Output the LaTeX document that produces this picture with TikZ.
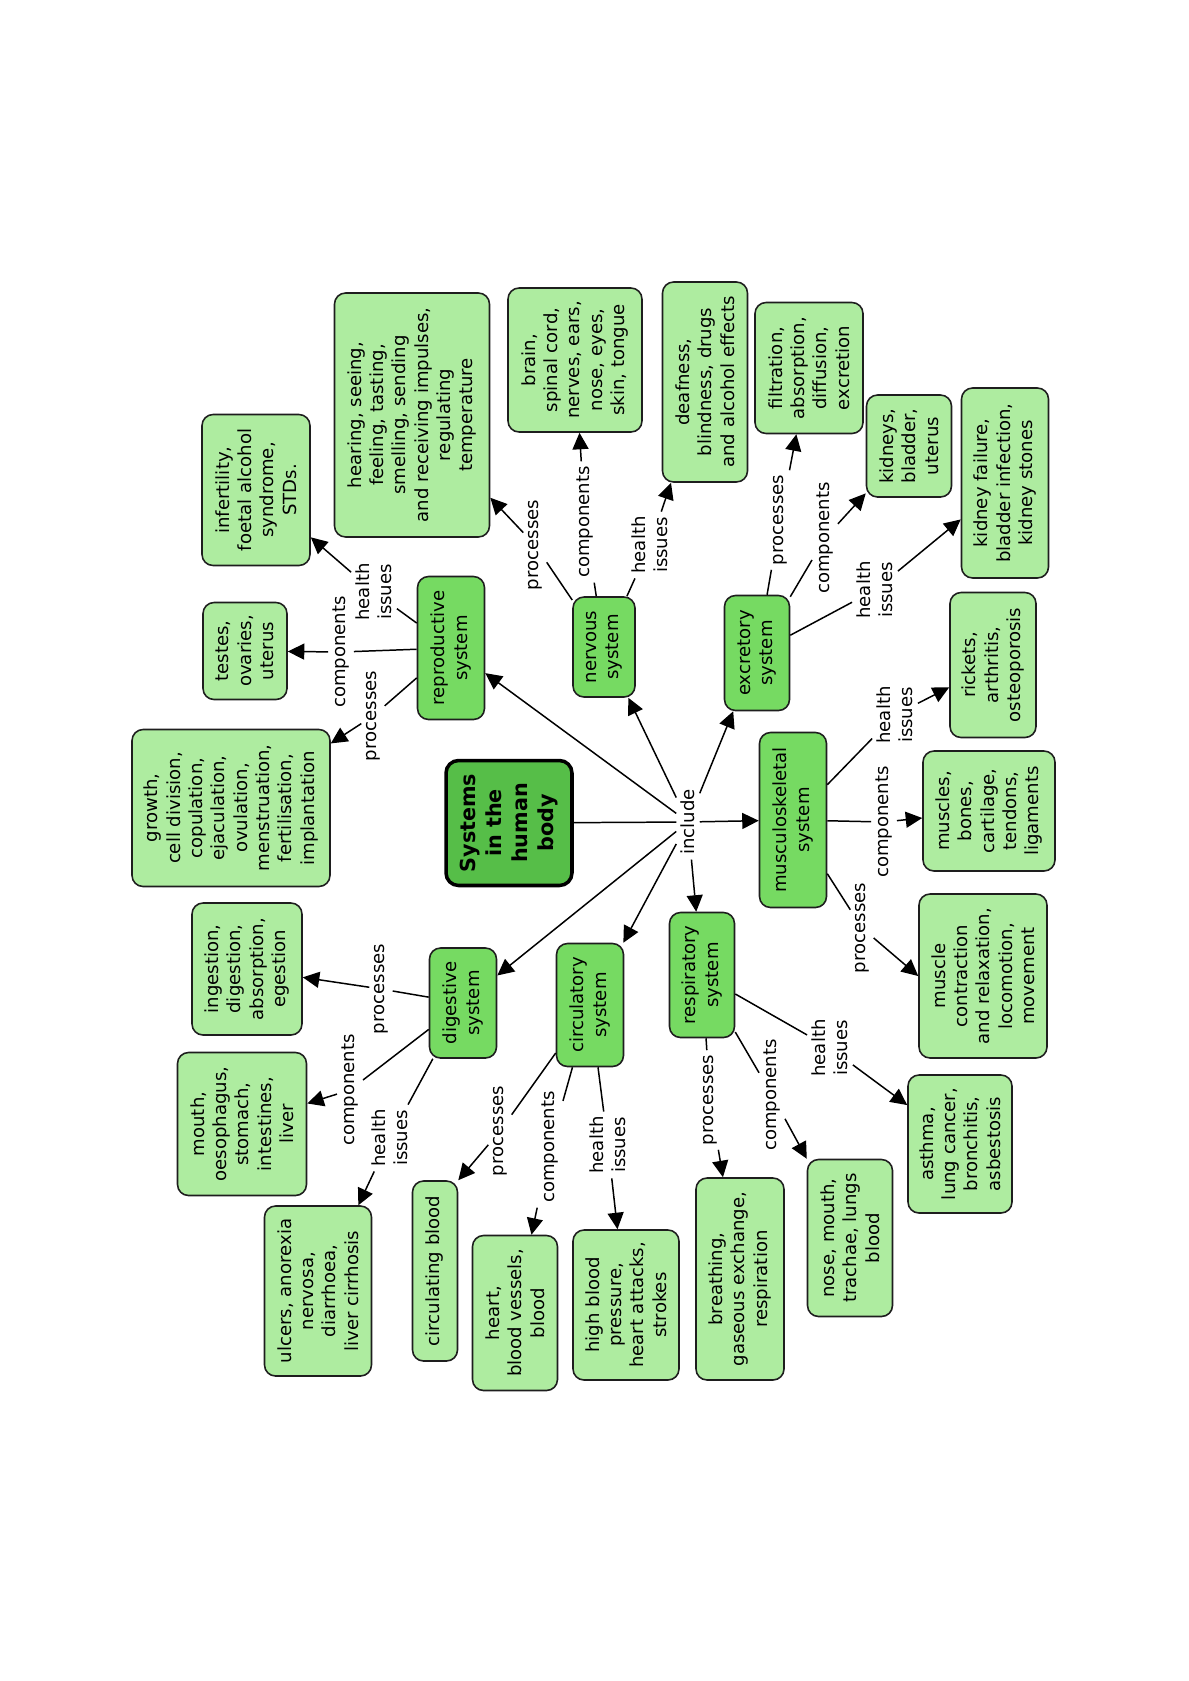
\documentclass[tikz,border=0pt]{standalone}
\usepackage{fontspec}
\setmainfont{DejaVu Sans}
\usetikzlibrary{arrows.meta}
\definecolor{leafgreen}{RGB}{174,236,160}
\definecolor{sysgreen}{RGB}{118,218,98}
\definecolor{maingreen}{RGB}{86,190,72}
\definecolor{edgegray}{RGB}{30,30,30}
\begin{document}
\begin{tikzpicture}[x=0.02cm,y=-0.02cm,
  every node/.style={font=\fontsize{10.3}{12.7}\selectfont, align=center},
  leaf/.style={draw=edgegray, line width=0.9pt, fill=leafgreen, rounded corners=0.22cm, rotate=90, inner sep=1pt},
  sys/.style={draw=edgegray, line width=0.9pt, fill=sysgreen, rounded corners=0.22cm, rotate=90, inner sep=1pt},
  mainc/.style={draw=black, line width=2pt, fill=maingreen, rounded corners=0.25cm, rotate=90, inner sep=1pt, font=\fontsize{11.8}{14.8}\selectfont\bfseries},
  lbl/.style={rotate=90, inner sep=2.5pt},
  link/.style={line width=0.85pt, draw=black},
  arr/.style={line width=0.85pt, draw=black, -{Triangle[length=0.33cm,width=0.32cm]}},
]
\fill[white] (0,0) rectangle (1188,1681);
\useasboundingbox (0,0) rectangle (1188,1681);

% central concept
\node[mainc, minimum width=2.5cm, minimum height=2.52cm] (main) at (509,823) {Systems\\in the\\human\\body};
\node[lbl] (inc) at (688,822) {include};

% systems
\node[sys, minimum width=2.86cm, minimum height=1.34cm] (sRep) at (451,648) {reproductive\\system};
\node[sys, minimum width=2.0cm, minimum height=1.24cm] (sNer) at (604,647) {nervous\\system};
\node[sys, minimum width=2.3cm, minimum height=1.3cm] (sExc) at (757,653) {excretory\\system};
\node[sys, minimum width=3.5cm, minimum height=1.34cm] (sMus) at (793,820) {musculoskeletal\\system};
\node[sys, minimum width=2.5cm, minimum height=1.3cm] (sRes) at (702,975) {respiratory\\system};
\node[sys, minimum width=2.46cm, minimum height=1.34cm] (sCir) at (590,1005) {circulatory\\system};
\node[sys, minimum width=2.2cm, minimum height=1.34cm] (sDig) at (463,1003) {digestive\\system};

% leaves
\node[leaf, minimum width=3.02cm, minimum height=2.16cm] (infert) at (256,490) {infertility,\\foetal alcohol\\syndrome,\\STDs.};
\node[leaf, minimum width=4.88cm, minimum height=3.1cm] (hearing) at (412,415) {hearing, seeing,\\feeling, tasting,\\smelling, sending\\and receiving impulses,\\regulating\\temperature};
\node[leaf, minimum width=2.88cm, minimum height=2.68cm] (brain) at (575,360) {brain,\\spinal cord,\\nerves, ears,\\nose, eyes,\\skin, tongue};
\node[leaf, minimum width=4.0cm, minimum height=1.7cm] (deaf) at (705,382) {deafness,\\blindness, drugs\\and alcohol effects};
\node[leaf, minimum width=2.62cm, minimum height=2.16cm] (filtr) at (809,368) {filtration,\\absorption,\\diffusion,\\excretion};
\node[leaf, minimum width=2.04cm, minimum height=1.7cm] (kidn) at (909,446) {kidneys,\\bladder,\\uterus};
\node[leaf, minimum width=3.8cm, minimum height=1.74cm] (kfail) at (1005,483) {kidney failure,\\bladder infection,\\kidney stones};
\node[leaf, minimum width=2.9cm, minimum height=1.72cm] (rick) at (993,665) {rickets,\\arthritis,\\osteoporosis};
\node[leaf, minimum width=2.4cm, minimum height=2.64cm] (musc) at (989,811) {muscles,\\bones,\\cartilage,\\tendons,\\ligaments};
\node[leaf, minimum width=3.28cm, minimum height=2.56cm] (contr) at (983,976) {muscle\\contraction\\and relaxation,\\locomotion,\\movement};
\node[leaf, minimum width=2.76cm, minimum height=2.08cm] (asth) at (960,1144) {asthma,\\lung cancer,\\bronchitis,\\asbestosis};
\node[leaf, minimum width=3.14cm, minimum height=1.7cm] (nose) at (850,1238) {nose, mouth,\\trachae, lungs\\blood};
\node[leaf, minimum width=4.04cm, minimum height=1.76cm] (breath) at (740,1279) {breathing,\\gaseous exchange,\\respiration};
\node[leaf, minimum width=3.0cm, minimum height=2.12cm] (hbp) at (626,1305) {high blood\\pressure,\\heart attacks,\\strokes};
\node[leaf, minimum width=3.1cm, minimum height=1.7cm] (heart) at (515,1313) {heart,\\blood vessels,\\blood};
\node[leaf, minimum width=3.6cm, minimum height=0.9cm] (cblood) at (435,1271) {circulating blood};
\node[leaf, minimum width=3.4cm, minimum height=2.14cm] (ulcer) at (318,1291) {ulcers, anorexia\\nervosa,\\diarrhoea,\\liver cirrhosis};
\node[leaf, minimum width=2.86cm, minimum height=2.58cm] (mouth) at (242,1124) {mouth,\\oesophagus,\\stomach,\\intestines,\\liver};
\node[leaf, minimum width=2.64cm, minimum height=2.2cm] (inges) at (247,969) {ingestion,\\digestion,\\absorption,\\egestion};
\node[leaf, minimum width=3.14cm, minimum height=3.96cm] (growth) at (231,808) {growth,\\cell division,\\copulation,\\ejaculation,\\ovulation,\\menstruation,\\fertilisation,\\implantation};
\node[leaf, minimum width=1.94cm, minimum height=1.68cm] (testes) at (245,651) {testes,\\ovaries,\\uterus};

% linking phrases
\node[lbl] (lRepP) at (373,716) {processes};
\node[lbl] (lRepC) at (341,652) {components};
\node[lbl] (lRepH) at (374,592) {health\\issues};
\node[lbl] (lNerP) at (535,545) {processes};
\node[lbl] (lNerC) at (585,522) {components};
\node[lbl] (lNerH) at (650,545) {health\\issues};
\node[lbl] (lExcP) at (780,520) {processes};
\node[lbl] (lExcC) at (825,538) {components};
\node[lbl] (lExcH) at (875,590) {health\\issues};
\node[lbl] (lMusH) at (895,715) {health\\issues};
\node[lbl] (lMusC) at (884,822) {components};
\node[lbl] (lMusP) at (862,928) {processes};
\node[lbl] (lResH) at (830,1048) {health\\issues};
\node[lbl] (lResC) at (772,1095) {components};
\node[lbl] (lResP) at (710,1100) {processes};
\node[lbl] (lCirP) at (500,1131) {processes};
\node[lbl] (lCirC) at (550,1147) {components};
\node[lbl] (lCirH) at (608,1145) {health\\issues};
\node[lbl] (lDigP) at (381,989) {processes};
\node[lbl] (lDigC) at (350,1090) {components};
\node[lbl] (lDigH) at (390,1138) {health\\issues};

% connectors
\draw[link] (main) -- (inc);
\foreach \s in {sRep,sNer,sExc,sMus,sRes,sCir,sDig} \draw[arr] (inc) -- (\s);

\draw[link] (sRep) -- (lRepP); \draw[arr] (lRepP) -- (growth);
\draw[link] (sRep) -- (lRepC); \draw[arr] (lRepC) -- (testes);
\draw[link] (sRep) -- (lRepH); \draw[arr] (lRepH) -- (infert);

\draw[link] (sNer) -- (lNerP); \draw[arr] (lNerP) -- (hearing);
\draw[link] (sNer) -- (lNerC); \draw[arr] (lNerC) -- (brain);
\draw[link] (sNer) -- (lNerH); \draw[arr] (lNerH) -- (deaf);

\draw[link] (sExc) -- (lExcP); \draw[arr] (lExcP) -- (filtr);
\draw[link] (sExc) -- (lExcC); \draw[arr] (lExcC) -- (kidn);
\draw[link] (sExc) -- (lExcH); \draw[arr] (lExcH) -- (kfail);

\draw[link] (sMus) -- (lMusH); \draw[arr] (lMusH) -- (rick);
\draw[link] (sMus) -- (lMusC); \draw[arr] (lMusC) -- (musc);
\draw[link] (sMus) -- (lMusP); \draw[arr] (lMusP) -- (contr.north);

\draw[link] (sRes) -- (lResH); \draw[arr] (lResH) -- (asth);
\draw[link] (sRes) -- (lResC); \draw[arr] (lResC) -- (nose);
\draw[link] (sRes) -- (lResP); \draw[arr] (lResP) -- (breath);

\draw[link] (sCir) -- (lCirP); \draw[arr] (lCirP) -- (cblood.south east);
\draw[link] (sCir) -- (lCirC); \draw[arr] (lCirC) -- (heart);
\draw[link] (sCir) -- (lCirH); \draw[arr] (lCirH) -- (hbp);

\draw[link] (sDig) -- (lDigP); \draw[arr] (lDigP) -- (inges);
\draw[link] (sDig) -- (lDigC); \draw[arr] (lDigC) -- (mouth);
\draw[link] (sDig) -- (lDigH); \draw[arr] (lDigH) -- (ulcer);
\end{tikzpicture}
\end{document}
